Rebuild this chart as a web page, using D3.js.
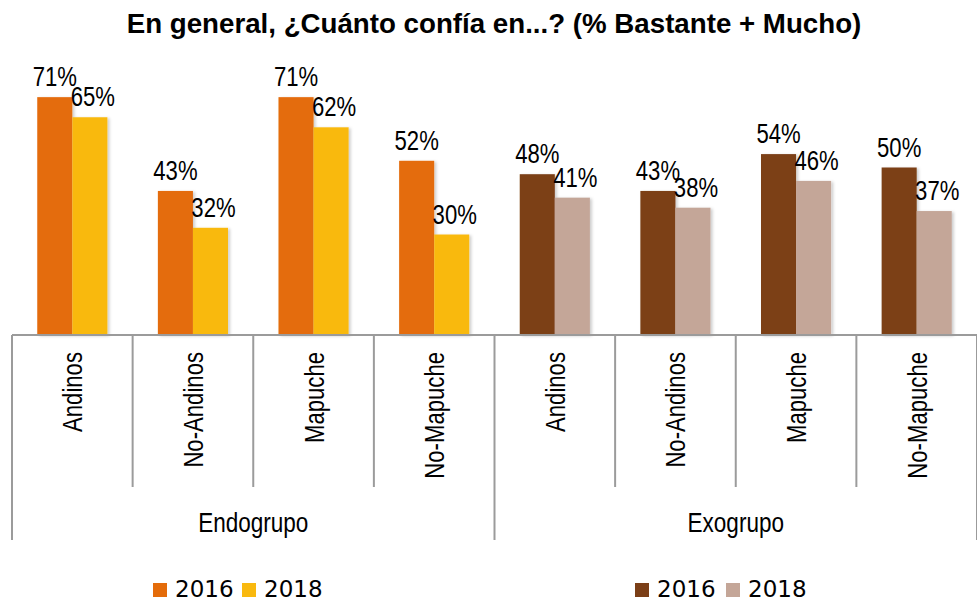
<!DOCTYPE html>
<html>
<head>
<meta charset="utf-8">
<script src="https://cdn.jsdelivr.net/npm/d3@7"></script>
<style>
  body { margin: 0; background: #fff; }
  text { font-family: "Liberation Sans", Arial, sans-serif; fill: #000; }
  .legend text { font-family: "DejaVu Sans", sans-serif; }
</style>
</head>
<body>
<div id="chart"></div>
<script>
// data
var groups = ["Endogrupo", "Exogrupo"];
var categories = ["Andinos", "No-Andinos", "Mapuche", "No-Mapuche"];
var years = ["2016", "2018"];
var endo2016 = [71, 43, 71, 52];
var endo2018 = [65, 32, 62, 30];
var exo2016 = [48, 43, 54, 50];
var exo2018 = [41, 38, 46, 37];
var colors = {
    Endogrupo: ["#E46C0A", "#F9B90F"],
    Exogrupo: ["#7B3F17", "#C4A698"]
};

var rows = [];
groups.forEach(function(g, gi) {
    var a = gi === 0 ? endo2016 : exo2016, b = gi === 0 ? endo2018 : exo2018;
    categories.forEach(function(c, ci) {
        rows.push({group: g, cat: c, key: g + "|" + c, values: [a[ci], b[ci]]});
    });
});

var width = 977, height = 601, axisY = 335, left = 12, right = 977;
var narrow = 0.82;  // no Arial Narrow here, squeeze Liberation Sans instead

var svg = d3.select("#chart").append("svg")
    .attr("width", width).attr("height", height);

var defs = svg.append("defs");
defs.append("filter").attr("id", "shadow")
    .attr("x", "-20%").attr("y", "-5%").attr("width", "150%").attr("height", "120%")
    .append("feDropShadow")
    .attr("dx", 2).attr("dy", 1).attr("stdDeviation", 1.5)
    .attr("flood-color", "#000").attr("flood-opacity", 0.2);

var x = d3.scaleBand().domain(rows.map(function(d) { return d.key; }))
    .range([left, right]).paddingInner(0).paddingOuter(0);
var xs = d3.scaleBand().domain(years).range([0, x.bandwidth()]).paddingOuter(0.72).paddingInner(0);
var y = d3.scaleLinear().domain([0, 100]).range([axisY, 0]);

svg.append("text")
    .attr("x", 494).attr("y", 33)
    .attr("text-anchor", "middle")
    .style("font-weight", "bold").style("font-size", "27.7px")
    .text("En general, ¿Cuánto confía en...? (% Bastante + Mucho)");

var cat = svg.selectAll("g.cat").data(rows).enter().append("g")
    .attr("class", "cat")
    .attr("transform", function(d) { return "translate(" + x(d.key) + ",0)"; });

cat.selectAll("rect").data(function(d) {
        return d.values.map(function(v, i) { return {v: v, year: years[i], color: colors[d.group][i]}; });
    })
    .enter().append("rect")
    .attr("x", function(d) { return xs(d.year); })
    .attr("width", xs.bandwidth())
    .attr("y", function(d) { return y(d.v); })
    .attr("height", function(d) { return axisY - y(d.v); })
    .attr("fill", function(d) { return d.color; })
    .attr("filter", "url(#shadow)");

cat.selectAll("text.val").data(function(d) {
        return d.values.map(function(v, i) { return {v: v, year: years[i]}; });
    })
    .enter().append("text")
    .attr("class", "val")
    .attr("transform", function(d) {
        var tx = xs(d.year) + xs.bandwidth() / 2 + (d.year === "2018" ? 3 : 0);
        return "translate(" + tx + "," + (y(d.v) - 11) + ") scale(" + narrow + ",1)";
    })
    .attr("text-anchor", "middle")
    .style("font-size", "27px")
    .text(function(d) { return d.v + "%"; });

cat.append("text")
    .attr("transform", "translate(" + (x.bandwidth() / 2 + 10) + ",352) rotate(-90) scale(" + narrow + ",1)")
    .attr("text-anchor", "end")
    .style("font-size", "27px")
    .text(function(d) { return d.cat; });

// axis line and separators
svg.append("line")
    .attr("x1", left).attr("x2", right).attr("y1", axisY).attr("y2", axisY)
    .attr("stroke", "#9b9b9b").attr("stroke-width", 2);

var bounds = rows.map(function(d) { return x(d.key); }).concat([right]);
svg.selectAll("line.sep").data(bounds).enter().append("line")
    .attr("class", "sep")
    .attr("x1", function(d) { return d; }).attr("x2", function(d) { return d; })
    .attr("y1", axisY)
    .attr("y2", function(d, i) { return i % categories.length === 0 ? 540 : 487; })
    .attr("stroke", "#9b9b9b").attr("stroke-width", 2);

svg.selectAll("text.grp").data(groups).enter().append("text")
    .attr("class", "grp")
    .attr("transform", function(g) {
        var ks = rows.filter(function(d) { return d.group === g; }).map(function(d) { return x(d.key); });
        var cx = (ks[0] + ks[ks.length - 1] + x.bandwidth()) / 2;
        return "translate(" + cx + ",532) scale(" + narrow + ",1)";
    })
    .attr("text-anchor", "middle")
    .style("font-size", "27.5px")
    .text(function(g) { return g; });

// legends
var legendPos = [153, 635];
groups.forEach(function(g, gi) {
    var lg = svg.append("g").attr("class", "legend")
        .attr("transform", "translate(" + legendPos[gi] + ",582)");
    var offs = gi === 0 ? [0, 89] : [0, 91];
    years.forEach(function(yr, i) {
        lg.append("rect").attr("x", offs[i]).attr("y", 1)
            .attr("width", 14).attr("height", 14)
            .attr("fill", colors[g][i]);
        lg.append("text").attr("x", offs[i] + 22).attr("y", 15)
            .style("font-size", "23px")
            .text(yr);
    });
});
</script>
</body>
</html>
